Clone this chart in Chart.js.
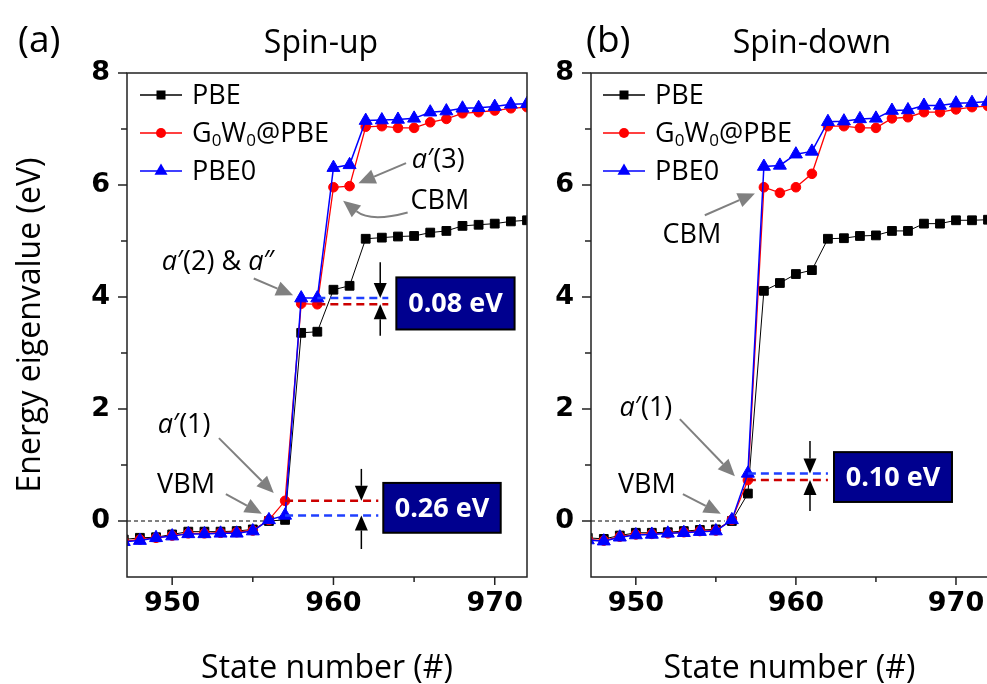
<!DOCTYPE html>
<html>
<head>
<meta charset="utf-8">
<script src="https://cdn.jsdelivr.net/npm/chart.js@4.4.1/dist/chart.umd.min.js"></script>
<style>
  html, body { margin: 0; padding: 0; background: #fff; overflow: hidden; }
  body { width: 987px; height: 684px; position: relative; }
  canvas { position: absolute; top: 0; }
  #up { left: 0; }
  #down { left: 540px; }
</style>
</head>
<body>
<canvas id="up" width="540" height="684"></canvas>
<canvas id="down" width="460" height="684"></canvas>
<script>
// --- DATA ---
const states = [947, 948, 949, 950, 951, 952, 953, 954, 955, 956, 957, 958, 959,
                960, 961, 962, 963, 964, 965, 966, 967, 968, 969, 970, 971, 972];

// spin-up
const pbeUp  = [-0.33, -0.30, -0.29, -0.24, -0.19, -0.19, -0.19, -0.18, -0.15, 0.00, 0.02, 3.36, 3.38,
                4.13, 4.20, 5.04, 5.06, 5.08, 5.09, 5.15, 5.18, 5.27, 5.29, 5.31, 5.35, 5.37];
const g0w0Up = [-0.36, -0.33, -0.30, -0.26, -0.22, -0.22, -0.21, -0.20, -0.17, 0.02, 0.36, 3.88, 3.87,
                5.96, 5.98, 7.04, 7.05, 7.02, 7.02, 7.12, 7.18, 7.28, 7.30, 7.33, 7.37, 7.39];
const pbe0Up = [-0.37, -0.35, -0.30, -0.27, -0.23, -0.23, -0.22, -0.22, -0.18, 0.02, 0.10, 3.98, 3.98,
                6.31, 6.36, 7.15, 7.16, 7.17, 7.19, 7.30, 7.32, 7.37, 7.38, 7.40, 7.44, 7.45];

// spin-down
const pbeDown  = [-0.30, -0.32, -0.26, -0.21, -0.21, -0.20, -0.18, -0.16, -0.15, 0.00, 0.49, 4.11, 4.25,
                  4.41, 4.48, 5.04, 5.05, 5.09, 5.10, 5.18, 5.18, 5.31, 5.31, 5.37, 5.37, 5.38];
const g0w0Down = [-0.33, -0.35, -0.28, -0.24, -0.23, -0.22, -0.20, -0.18, -0.17, 0.02, 0.73, 5.96, 5.86,
                  5.96, 6.20, 7.05, 7.05, 7.02, 7.02, 7.19, 7.21, 7.30, 7.30, 7.35, 7.39, 7.41];
const pbe0Down = [-0.34, -0.36, -0.29, -0.25, -0.24, -0.22, -0.21, -0.19, -0.18, 0.02, 0.85, 6.33, 6.35,
                  6.55, 6.60, 7.13, 7.14, 7.18, 7.19, 7.33, 7.34, 7.42, 7.42, 7.46, 7.47, 7.49];

// tick labels
const xTickLabels = [950, 960, 970];
const xMinorTicks = [955, 965];
const yTickLabels = [0, 2, 4, 6, 8];
const yMinorTicks = [1, 3, 5, 7];

const sansFont = "'Open Sans', 'DejaVu Sans', sans-serif";
const tickFont = { family: "'DejaVu Sans', sans-serif", size: 27, weight: 'bold' };
const RED = '#ff0000', BLUE = '#0000ff', GRAY = '#808080';

const at = (arr, s) => arr[states.indexOf(s)];
const pairs = vals => states.map((s, i) => ({ x: s, y: vals[i] }));

// --- DRAW HELPERS ---
function drawParts(ctx, parts, x, y, size, align) {
  const fontFor = p => (p[1] === 'it' ? 'italic ' : '') +
    (p[1] === 'sub' ? Math.round(size * 0.62) : size) + 'px ' + sansFont;
  let total = 0;
  parts.forEach(p => { ctx.font = fontFor(p); total += ctx.measureText(p[0]).width; });
  let cx = align === 'center' ? x - total / 2 : x;
  ctx.textAlign = 'left';
  ctx.textBaseline = 'middle';
  ctx.fillStyle = '#000';
  parts.forEach(p => {
    ctx.font = fontFor(p);
    ctx.fillText(p[0], cx, y + (p[1] === 'sub' ? size * 0.28 : 0));
    cx += ctx.measureText(p[0]).width;
  });
}

function arrowHead(ctx, x2, y2, ang, len, w) {
  const bx = x2 - len * Math.cos(ang), by = y2 - len * Math.sin(ang);
  ctx.beginPath();
  ctx.moveTo(x2, y2);
  ctx.lineTo(bx + w / 2 * Math.sin(ang), by - w / 2 * Math.cos(ang));
  ctx.lineTo(bx - w / 2 * Math.sin(ang), by + w / 2 * Math.cos(ang));
  ctx.closePath();
  ctx.fill();
  return [bx, by];
}

function arrow(ctx, x1, y1, x2, y2, color, lw, len, w, bend) {
  ctx.strokeStyle = color;
  ctx.fillStyle = color;
  ctx.lineWidth = lw;
  if (bend) {
    const ang = Math.atan2(y2 - bend[1], x2 - bend[0]);
    const [bx, by] = arrowHead(ctx, x2, y2, ang, len, w);
    ctx.beginPath();
    ctx.moveTo(x1, y1);
    ctx.quadraticCurveTo(bend[0], bend[1], bx, by);
    ctx.stroke();
  } else {
    const ang = Math.atan2(y2 - y1, x2 - x1);
    const [bx, by] = arrowHead(ctx, x2, y2, ang, len, w);
    ctx.beginPath();
    ctx.moveTo(x1, y1);
    ctx.lineTo(bx, by);
    ctx.stroke();
  }
}

function drawMarker(ctx, style, x, y, color) {
  ctx.fillStyle = color;
  ctx.beginPath();
  if (style === 'rect') ctx.rect(x - 4.5, y - 4.5, 9, 9);
  else if (style === 'circle') ctx.arc(x, y, 5, 0, Math.PI * 2);
  else {
    ctx.moveTo(x, y - 7.5);
    ctx.lineTo(x + 6.5, y + 3.8);
    ctx.lineTo(x - 6.5, y + 3.8);
    ctx.closePath();
  }
  ctx.fill();
}

// --- PANEL DECORATION PLUGIN ---
function decor(cfg) {
  return {
    id: 'decor',
    beforeDatasetsDraw(chart) {
      const { ctx, scales: { x, y } } = chart;
      // dashed zero reference up to the VBM
      ctx.save();
      ctx.strokeStyle = '#000';
      ctx.lineWidth = 1;
      ctx.setLineDash([4, 3]);
      ctx.beginPath();
      ctx.moveTo(chart.chartArea.left, y.getPixelForValue(0));
      ctx.lineTo(x.getPixelForValue(cfg.zeroTo), y.getPixelForValue(0));
      ctx.stroke();
      ctx.restore();
    },
    afterDraw(chart) {
      const { ctx, chartArea: a, scales: { x, y } } = chart;
      const px = v => x.getPixelForValue(v), py = v => y.getPixelForValue(v);
      ctx.save();

      // frame
      ctx.strokeStyle = '#222';
      ctx.lineWidth = 1.5;
      ctx.strokeRect(a.left, a.top, a.right - a.left, a.bottom - a.top);

      // tick marks
      ctx.beginPath();
      xTickLabels.forEach(v => { ctx.moveTo(px(v), a.bottom); ctx.lineTo(px(v), a.bottom + 8); });
      xMinorTicks.forEach(v => { ctx.moveTo(px(v), a.bottom); ctx.lineTo(px(v), a.bottom + 5); });
      yTickLabels.forEach(v => { ctx.moveTo(a.left, py(v)); ctx.lineTo(a.left - 9, py(v)); });
      yMinorTicks.forEach(v => { ctx.moveTo(a.left, py(v)); ctx.lineTo(a.left - 6, py(v)); });
      ctx.stroke();

      // gap markers
      cfg.gaps.forEach(g => {
        ctx.lineWidth = 2.5;
        ctx.setLineDash([8, 5]);
        [[g.upper, g.upperColor], [g.lower, g.lowerColor]].forEach(([v, c]) => {
          ctx.strokeStyle = c;
          ctx.beginPath();
          ctx.moveTo(px(g.from), py(v));
          ctx.lineTo(px(g.to), py(v));
          ctx.stroke();
        });
        ctx.setLineDash([]);
        const ax = px(g.arrowX);
        arrow(ctx, ax, py(g.arrowTop), ax, py(g.upper), '#000', 1.5, 15, 13);
        arrow(ctx, ax, py(g.arrowBot), ax, py(g.lower), '#000', 1.5, 15, 13);
        const [bx0, bx1, by0, by1] = g.box;
        ctx.fillStyle = '#00008f';
        ctx.fillRect(px(bx0), py(by0), px(bx1) - px(bx0), py(by1) - py(by0));
        ctx.strokeStyle = '#000';
        ctx.lineWidth = 2;
        ctx.strokeRect(px(bx0), py(by0), px(bx1) - px(bx0), py(by1) - py(by0));
        ctx.fillStyle = '#fff';
        ctx.font = 'bold 27px ' + sansFont;
        ctx.textAlign = 'center';
        ctx.textBaseline = 'middle';
        ctx.fillText(g.text, (px(bx0) + px(bx1)) / 2, (py(by0) + py(by1)) / 2 + 1);
      });

      // labelled gray arrows
      cfg.notes.forEach(n => {
        drawParts(ctx, n.parts, px(n.at[0]), py(n.at[1]), 27, 'center');
        const [[x1, y1], [x2, y2]] = n.arrow;
        const bend = n.bend ? [px(n.bend[0]), py(n.bend[1])] : null;
        arrow(ctx, px(x1), py(y1), px(x2), py(y2), GRAY, 2, 17, 15, bend);
      });

      // legend
      cfg.legend.forEach((item, i) => {
        const ly = a.top + 22 + i * 38;
        const lx = a.left + cfg.legendX;
        ctx.strokeStyle = item.color;
        ctx.lineWidth = 1.5;
        ctx.beginPath();
        ctx.moveTo(lx, ly);
        ctx.lineTo(lx + 42, ly);
        ctx.stroke();
        drawMarker(ctx, item.style, lx + 21, ly, item.color);
        drawParts(ctx, item.parts, lx + 52, ly + 1, 27, 'left');
      });

      // panel titles
      ctx.fillStyle = '#000';
      ctx.textBaseline = 'middle';
      ctx.textAlign = 'left';
      ctx.font = '37px ' + sansFont;
      ctx.fillText(cfg.tag, cfg.tagX, 41);
      ctx.textAlign = 'center';
      ctx.font = '32px ' + sansFont;
      ctx.fillText(cfg.title, cfg.titleX, 44);
      ctx.restore();
    }
  };
}

const legendItems = [
  { parts: [['PBE']], color: '#000', style: 'rect' },
  { parts: [['G'], ['0', 'sub'], ['W'], ['0', 'sub'], ['@PBE']], color: RED, style: 'circle' },
  { parts: [['PBE0']], color: BLUE, style: 'triangle' }
];

function makeChart(id, series, cfg) {
  const [pbe, g0w0, pbe0] = series;
  return new Chart(document.getElementById(id), {
    type: 'line',
    data: {
      datasets: [
        { label: 'PBE0', data: pairs(pbe0), borderColor: BLUE, backgroundColor: BLUE,
          pointStyle: 'triangle', pointRadius: 7.5, pointBorderWidth: 1, borderWidth: 1.5, order: 0 },
        { label: 'G0W0@PBE', data: pairs(g0w0), borderColor: RED, backgroundColor: RED,
          pointStyle: 'circle', pointRadius: 4.8, pointBorderWidth: 1, borderWidth: 1.3, order: 1 },
        { label: 'PBE', data: pairs(pbe), borderColor: '#000', backgroundColor: '#000',
          pointStyle: 'rect', pointRadius: 6.2, pointBorderWidth: 1, borderWidth: 1, order: 2 }
      ]
    },
    options: {
      responsive: false,
      animation: false,
      devicePixelRatio: 1,
      layout: { padding: { top: 73, right: cfg.padRight, left: 0, bottom: 0 } },
      plugins: { legend: { display: false }, tooltip: { enabled: false } },
      scales: {
        x: {
          type: 'linear', min: 947.2, max: 972,
          afterFit: s => { s.height = 107; },
          grid: { display: false, drawTicks: false },
          border: { display: false },
          ticks: {
            stepSize: 5, includeBounds: false, autoSkip: false, maxRotation: 0,
            padding: 11, color: '#000', font: tickFont,
            callback: v => (xTickLabels.includes(v) ? String(v) : '')
          },
          title: { display: true, text: 'State number (#)', color: '#000',
                   font: { family: sansFont, size: 32 }, padding: { top: 0, bottom: -4 } }
        },
        y: {
          type: 'linear', min: -1, max: 8,
          afterFit: s => { s.width = cfg.yWidth; },
          grid: { display: false, drawTicks: false },
          border: { display: false },
          ticks: {
            stepSize: 1, autoSkip: false, padding: 17, color: '#000', font: tickFont,
            callback: v => (yTickLabels.includes(v) ? String(v) : '')
          },
          title: { display: cfg.yTitle, text: 'Energy eigenvalue (eV)', color: '#000',
                   font: { family: sansFont, size: 32 }, padding: { top: 12, bottom: 0 } }
        }
      }
    },
    plugins: [decor(cfg)]
  });
}

// --- PANEL (a): spin-up ---
makeChart('up', [pbeUp, g0w0Up, pbe0Up], {
  yWidth: 127, padRight: 13, yTitle: true,
  tag: '(a)', tagX: 18, title: 'Spin-up', titleX: 321,
  legendX: 13, legend: legendItems, zeroTo: 955.8,
  notes: [
    { parts: [['a', 'it'], ['′(3)']], at: [966.5, 6.44], arrow: [[964.5, 6.39], [961.55, 6.03]] },
    { parts: [['CBM']], at: [966.6, 5.71], arrow: [[964.6, 5.51], [960.6, 5.72]], bend: [962.3, 5.33] },
    { parts: [['a', 'it'], ['′(2) & '], ['a', 'it'], ['″']], at: [952.84, 4.62],
      arrow: [[955.06, 4.33], [957.5, 4.03]] },
    { parts: [['a', 'it'], ['′(1)']], at: [950.74, 1.70], arrow: [[952.9, 1.48], [956.3, 0.50]] },
    { parts: [['VBM']], at: [950.86, 0.63], arrow: [[953.33, 0.48], [955.56, 0.13]] }
  ],
  gaps: [
    { from: 957, to: 962.78, upper: at(g0w0Up, 957), upperColor: '#cc0000',
      lower: at(pbe0Up, 957), lowerColor: '#1f3fff',
      arrowX: 961.73, arrowTop: 0.93, arrowBot: -0.5, box: [963.09, 970.37, 0.68, -0.21], text: '0.26 eV' },
    { from: 959, to: 963.4, upper: at(pbe0Up, 959), upperColor: '#1f3fff',
      lower: at(g0w0Up, 959), lowerColor: '#cc0000',
      arrowX: 962.9, arrowTop: 4.62, arrowBot: 3.31, box: [963.9, 971.23, 4.35, 3.42], text: '0.08 eV' }
  ]
});

// --- PANEL (b): spin-down ---
makeChart('down', [pbeDown, g0w0Down, pbe0Down], {
  yWidth: 51, padRight: 12, yTitle: false,
  tag: '(b)', tagX: 46, title: 'Spin-down', titleX: 272,
  legendX: 12, legend: legendItems, zeroTo: 955.56,
  notes: [
    { parts: [['CBM']], at: [953.5, 5.10], arrow: [[954.31, 5.46], [957.44, 5.85]] },
    { parts: [['a', 'it'], ['′(1)']], at: [950.63, 2.02], arrow: [[952.75, 1.82], [956.19, 0.80]] },
    { parts: [['VBM']], at: [950.69, 0.64], arrow: [[952.94, 0.48], [955.31, 0.13]] }
  ],
  gaps: [
    { from: 957, to: 962, upper: at(pbe0Down, 957), upperColor: '#1f3fff',
      lower: at(g0w0Down, 957), lowerColor: '#cc0000',
      arrowX: 960.88, arrowTop: 1.43, arrowBot: 0.18, box: [962.38, 969.75, 1.23, 0.34], text: '0.10 eV' }
  ]
});
</script>
</body>
</html>
